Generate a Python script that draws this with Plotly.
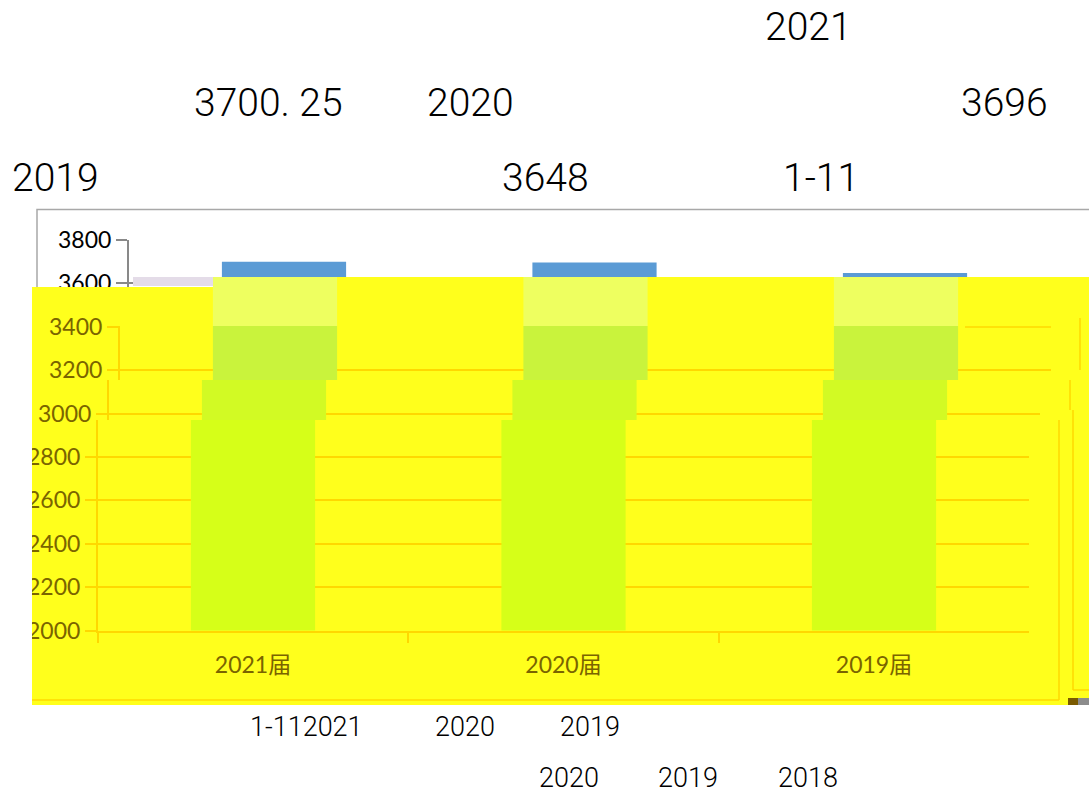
import plotly.graph_objects as go

# ---------------- data ----------------
categories = ["2021届", "2020届", "2019届"]
salaries = [3700.25, 3696, 3648]
y_ticks = [2000, 2200, 2400, 2600, 2800, 3000, 3200, 3400, 3600, 3800]

doc_texts = ["2021", "3700. 25", "2020", "3696", "2019", "3648", "1-11"]
bottom_texts_row1 = ["1-112021", "2020", "2019"]
bottom_texts_row2 = ["2020", "2019", "2018"]

# ---------------- layout helpers ----------------
W, H = 1089, 796


def px(x):
    return x / W


def py(y):
    return 1 - y / H


Y_MIN, Y_MAX = 2000, 3800
Y_TOP_PX, Y_BOT_PX = 240.0, 630.6
PLOT_L, PLOT_R = 128.75, 1060.25


def val_at(ypix):
    return Y_MAX - (ypix - Y_TOP_PX) * (Y_MAX - Y_MIN) / (Y_BOT_PX - Y_TOP_PX)


BLUE = "#5B9BD5"
YELLOW = "#FFFF1C"
GOLD = "#FFD800"
OLIVE = "#7A6400"
GRAY = "#898989"
LBL_FONT = "Lato, 'Noto Sans CJK SC', sans-serif"
DOC_FONT = "Roboto, 'Liberation Sans', sans-serif"

fig = go.Figure()

# main (un-highlighted) chart
fig.add_trace(go.Bar(x=categories, y=salaries, marker=dict(color=BLUE, line=dict(width=0)),
                     xaxis="x", yaxis="y", hoverinfo="skip"))

# yellow highlight layer (decoration drawn as a filled path in pixel space)
hl_x = [32, 213, 213, 1089, 1089, 32, 32]
hl_y = [287, 287, 277, 277, 705, 705, 287]
fig.add_trace(go.Scatter(x=hl_x, y=hl_y, mode="lines", fill="toself", fillcolor=YELLOW,
                         line=dict(width=0, color=YELLOW), xaxis="x2", yaxis="y2",
                         hoverinfo="skip"))

# shifted highlighted bands of the chart
bands = [
    dict(top=277, bottom=326, off=-9, color="#EEFF60", yaxis=False, xaxis=False),
    dict(top=326, bottom=380, off=-9, color="#C9F33C", yaxis=True, xaxis=False),
    dict(top=380, bottom=420, off=-20, color="#D2FA24", yaxis=True, xaxis=False),
    dict(top=420, bottom=Y_BOT_PX, off=-31, color="#D6FF18", yaxis=True, xaxis=True),
]

layout = dict(
    width=W, height=H,
    margin=dict(l=0, r=0, t=0, b=0, pad=0, autoexpand=False),
    paper_bgcolor="white", plot_bgcolor="rgba(0,0,0,0)",
    showlegend=False, bargap=0.6,
    xaxis=dict(domain=[px(PLOT_L), px(PLOT_R)], range=[-0.5, 2.5], anchor="y", automargin=False,
               showticklabels=False, showgrid=False, ticks="", showline=False,
               categoryorder="array", categoryarray=categories),
    yaxis=dict(domain=[py(Y_BOT_PX), py(Y_TOP_PX)], range=[Y_MIN, Y_MAX], anchor="x", automargin=False,
               tickvals=y_ticks[-2:], ticks="outside", ticklen=11, tickcolor=GRAY, tickwidth=1.5,
               showline=True, linecolor=GRAY, linewidth=1.5,
               showgrid=True, gridcolor=GRAY, gridwidth=1.5, zeroline=False,
               tickfont=dict(family=LBL_FONT, size=23, color="black")),
    xaxis2=dict(domain=[0, 1], range=[0, W], visible=False, anchor="y2", automargin=False),
    yaxis2=dict(domain=[0, 1], range=[H, 0], visible=False, anchor="x2", automargin=False),
)

for i, b in enumerate(bands):
    n = 3 + i
    fig.add_trace(go.Bar(x=categories, y=salaries, marker=dict(color=b["color"], line=dict(width=0)),
                         xaxis=f"x{n}", yaxis=f"y{n}", hoverinfo="skip"))
    layout[f"xaxis{n}"] = dict(
        domain=[px(PLOT_L + b["off"]), px(PLOT_R + b["off"])], range=[-0.5, 2.5],
        anchor=f"y{n}", categoryorder="array", categoryarray=categories, automargin=False,
        showgrid=False, zeroline=False,
        showline=b["xaxis"], linecolor=GOLD, linewidth=1.5,
        ticks="outside" if b["xaxis"] else "", tickson="boundaries", ticklen=11,
        tickcolor=GOLD, tickwidth=1.5,
        showticklabels=b["xaxis"], ticklabelstandoff=13,
        tickfont=dict(family=LBL_FONT, size=23, color=OLIVE),
    )
    layout[f"yaxis{n}"] = dict(
        domain=[py(b["bottom"]), py(b["top"])], range=[val_at(b["bottom"]), val_at(b["top"])],
        anchor=f"x{n}", tickvals=y_ticks, zeroline=False, automargin=False,
        showgrid=b["yaxis"], gridcolor=GOLD, gridwidth=1.5,
        showline=b["yaxis"], linecolor=GOLD, linewidth=1.5,
        ticks="outside" if b["yaxis"] else "", ticklen=11, tickcolor=GOLD, tickwidth=1.5,
        showticklabels=b["yaxis"],
        tickfont=dict(family=LBL_FONT, size=23, color=OLIVE),
    )

fig.update_layout(**layout)

# chart frame (below everything; its lower part is hidden by the highlight)
shapes = [
    dict(type="rect", xref="paper", yref="paper", x0=px(37), x1=px(1100), y0=py(690), y1=py(209.5),
         line=dict(color="#A8A8A8", width=1.5), layer="below"),
]
# stray highlighted frame lines
gold_lines = [
    (32, 700, 1059, 700), (1059, 420, 1059, 700), (1080, 318, 1080, 370),
    (1070, 380, 1070, 410), (1073, 410, 1073, 690), (1073, 690, 1089, 690),
    (965, 327, 1051, 327),
]
for x0, y0, x1, y1 in gold_lines:
    shapes.append(dict(type="line", xref="paper", yref="paper", x0=px(x0), y0=py(y0), x1=px(x1), y1=py(y1),
                       line=dict(color=GOLD, width=1.5), layer="above"))
# white margin left of the highlight (clips the shifted tick labels like the reference)
shapes.append(dict(type="rect", xref="paper", yref="paper", x0=0, x1=px(32), y0=py(705), y1=py(287),
                   fillcolor="white", line=dict(width=0), layer="above"))
# garbled strip at top-left of the highlight
shapes.append(dict(type="rect", xref="paper", yref="paper", x0=px(133), x1=px(213), y0=py(286), y1=py(277),
                   fillcolor="#E4DCE8", line=dict(width=0), layer="above"))
shapes.append(dict(type="rect", xref="paper", yref="paper", x0=px(1068), x1=px(1078), y0=py(705), y1=py(698),
                   fillcolor="#7A5A00", line=dict(width=0), layer="above"))
shapes.append(dict(type="rect", xref="paper", yref="paper", x0=px(1078), x1=px(1089), y0=py(705), y1=py(698),
                   fillcolor="#8C8C8C", line=dict(width=0), layer="above"))
fig.update_layout(shapes=shapes)

# document text fragments
doc_pos = [(808, 27), (268, 103), (470, 103), (1004, 103), (55, 178), (545, 178), (821, 178)]
row1_pos = [(306, 727), (465, 727), (590, 727)]
row2_pos = [(569, 778), (688, 778), (808, 778)]
ann = []
for t, (x, y) in zip(doc_texts, doc_pos):
    ann.append(dict(text=t, x=px(x), y=py(y), xref="paper", yref="paper", showarrow=False,
                    xanchor="center", yanchor="middle",
                    font=dict(family=DOC_FONT, size=39, color="black", weight=300)))
for t, (x, y) in zip(bottom_texts_row1 + bottom_texts_row2, row1_pos + row2_pos):
    ann.append(dict(text=t, x=px(x), y=py(y), xref="paper", yref="paper", showarrow=False,
                    xanchor="center", yanchor="middle",
                    font=dict(family=DOC_FONT, size=27, color="black", weight=300)))
fig.update_layout(annotations=ann)

fig.write_html("out.html", config={"displayModeBar": False},
               post_script="document.body.style.margin='0';document.body.style.overflow='hidden';")
